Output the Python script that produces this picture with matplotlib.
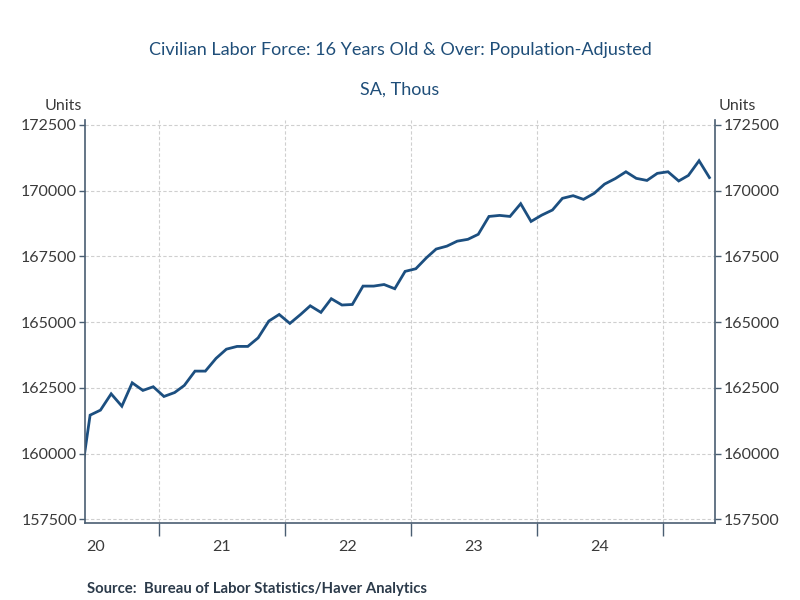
import matplotlib
matplotlib.use("Agg")
import matplotlib.pyplot as plt
import matplotlib.dates as mdates
import matplotlib.ticker as mticker
import pandas as pd
import numpy as np

# ---- data (thousands), monthly May 2020 .. May 2025 ----
start_month = "2020-05-01"
values = [
    158630,                                                     # 2020 May
    161460, 161650, 162270, 161800, 162690, 162400, 162540,     # 2020 Jun-Dec
    162170, 162320, 162590, 163135, 163135, 163620,             # 2021 Jan-Jun
    163970, 164075, 164075, 164400, 165040, 165290,             # 2021 Jul-Dec
    164950, 165290, 165620, 165370, 165890, 165650,             # 2022 Jan-Jun
    165670, 166370, 166370, 166430, 166270, 166930,             # 2022 Jul-Dec
    167030, 167450, 167780, 167890, 168080, 168150,             # 2023 Jan-Jun
    168340, 169020, 169060, 169020, 169505, 168830,             # 2023 Jul-Dec
    169070, 169265, 169710, 169810, 169670, 169900,             # 2024 Jan-Jun
    170250, 170460, 170720, 170470, 170390, 170660,             # 2024 Jul-Dec
    170720, 170370, 170580, 171140, 170500,                     # 2025 Jan-May
]
yticks = [157500, 160000, 162500, 165000, 167500, 170000, 172500]
title = "Civilian Labor Force: 16 Years Old & Over: Population-Adjusted"
subtitle = "SA, Thous"
source = "Source:  Bureau of Labor Statistics/Haver Analytics"

dates = pd.date_range(start_month, periods=len(values), freq="MS") + pd.Timedelta(days=14)

plt.rcParams['font.family'] = ['Lato', 'DejaVu Sans']

title_color = "#1f4e79"
line_color = "#1c4f80"
spine_color = "#4a5e72"
text_color = "#3a3a3a"

fig = plt.figure(figsize=(8, 6), dpi=100)
ax = fig.add_axes([0.1066, 0.128, 0.7875, 0.672])

ax.plot(dates, values, color=line_color, linewidth=2.0, solid_joinstyle='miter')

ax.set_xlim(pd.Timestamp("2020-06-01"), pd.Timestamp("2025-06-01"))
ax.set_ylim(157348, 172690)

ax.set_yticks(yticks)
ax.yaxis.set_major_formatter(mticker.FuncFormatter(lambda v, p: f"{int(v)}"))
ax.tick_params(axis='y', which='both', left=True, right=True, labelleft=True, labelright=True,
               direction='out', length=4.5, width=1, color=spine_color,
               labelsize=11.5, labelcolor=text_color, pad=1.5)

ax.xaxis.set_major_locator(mdates.YearLocator())
ax.xaxis.set_major_formatter(mticker.NullFormatter())
ax.xaxis.set_minor_locator(mdates.MonthLocator(bymonth=7, bymonthday=1))
ax.xaxis.set_minor_formatter(mdates.DateFormatter('%y'))
ax.tick_params(axis='x', which='major', direction='out', length=9.5, width=1, color=spine_color)
ax.tick_params(axis='x', which='minor', length=0, labelsize=11.5, labelcolor=text_color, pad=12)

for s in ['left', 'right', 'bottom']:
    ax.spines[s].set_color(spine_color)
    ax.spines[s].set_linewidth(1.2)
ax.spines['top'].set_visible(False)

ax.grid(True, which='major', axis='both', color='#cfcfcf', linestyle=(0, (3, 2)), linewidth=0.8)
ax.set_axisbelow(True)

fig.text(0.5, 1 - 50/600, title, ha='center', va='center', fontsize=13, color=title_color)
fig.text(0.5, 1 - 90/600, subtitle, ha='center', va='center', fontsize=13, color=title_color)
fig.text(82/800, 1 - 106/600, "Units", ha='right', va='center', fontsize=11.5, color=text_color)
fig.text(719/800, 1 - 106/600, "Units", ha='left', va='center', fontsize=11.5, color=text_color)
fig.text(87/800, 1 - 589/600, source, ha='left', va='center', fontsize=10.7, fontweight='bold', color="#2b3a4a")

fig.savefig("out.png", dpi=100)
